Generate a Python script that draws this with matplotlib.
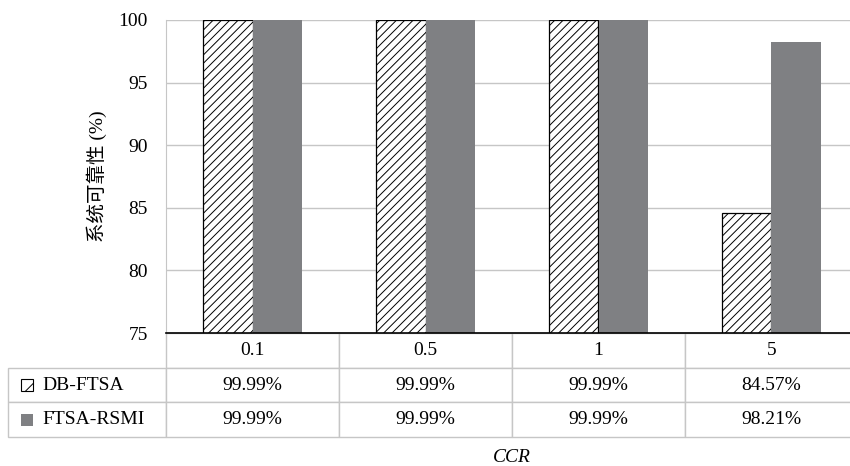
import matplotlib
matplotlib.use('Agg')
import matplotlib.pyplot as plt
from matplotlib.patches import Rectangle
from matplotlib.table import Table

plt.rcParams['font.family'] = ['Liberation Serif', 'Noto Sans CJK SC']
plt.rcParams['hatch.linewidth'] = 0.7

# ========== data ==========
ccr = ['0.1', '0.5', '1', '5']
dbFtsa = [99.99, 99.99, 99.99, 84.57]
ftsaRsmi = [99.99, 99.99, 99.99, 98.21]
seriesNames = ['DB-FTSA', 'FTSA-RSMI']

grey = '#7f8083'
gridGrey = '#c6c6c6'

# ========== figure ==========
axW, axH = 692, 313
fig = plt.figure(figsize=(8.5, 4.66), dpi=100)
ax = fig.add_axes([166/850, 133/466, axW/850, axH/466])

x = list(range(len(ccr)))
w = 0.288
ax.bar([i - w/2 for i in x], dbFtsa, width=w, color='white', edgecolor='black',
       linewidth=0.9, hatch='////', zorder=3)
ax.bar([i + w/2 for i in x], ftsaRsmi, width=w, color=grey, linewidth=0, zorder=3)

ax.set_xlim(-0.5, len(ccr) - 0.5)
ax.set_ylim(75, 100)
ax.set_yticks([75, 80, 85, 90, 95, 100])
ax.set_xticks([])
ax.tick_params(axis='y', length=0, pad=13, labelsize=14)
ax.yaxis.grid(True, color=gridGrey, linewidth=1)
ax.set_axisbelow(True)

for s in ['top', 'right']:
    ax.spines[s].set_visible(False)
ax.spines['left'].set_color(gridGrey)
ax.spines['bottom'].set_color('black')
ax.spines['bottom'].set_linewidth(1.2)
ax.spines['bottom'].set_zorder(10)

ax.set_ylabel('系统可靠性 (%)', fontsize=14, labelpad=8)

# ========== data table ==========
# first column holds the series names, header cell above it stays blank
rowH = 104 / 3 / axH
labW = 158 / axW
colW = 1 / len(ccr)
rows = [[''] + ccr,
        [seriesNames[0]] + [f'{v:.2f}%' for v in dbFtsa],
        [seriesNames[1]] + [f'{v:.2f}%' for v in ftsaRsmi]]
tab = Table(ax, bbox=[-labW, -3 * rowH, 1 + labW, 3 * rowH])
for r, row in enumerate(rows):
    for c, txt in enumerate(row):
        cell = tab.add_cell(r, c, labW if c == 0 else colW, rowH, text=txt,
                            loc='left' if c == 0 else 'center',
                            edgecolor=gridGrey)
        cell.set_linewidth(1)
        if c == 0:
            cell.PAD = 34 / 158
            if r == 0:
                cell.visible_edges = ''
tab.auto_set_font_size(False)
tab.set_fontsize(14)
tab.set_zorder(1)
ax.add_table(tab)

# legend keys inside the row label cells
keyW, keyH = 12 / axW, 12 / axH
for row, kw in [(1.5, dict(facecolor='white', edgecolor='black', hatch='//', linewidth=0.8)),
                (2.5, dict(facecolor=grey, edgecolor='none'))]:
    ax.add_patch(Rectangle(((21 - 166) / axW, -row * rowH - keyH/2), keyW, keyH,
                           transform=ax.transAxes, clip_on=False, zorder=11, **kw))

ax.text(0.5, (333 - 457) / axH, 'CCR', transform=ax.transAxes, ha='center', va='center',
        fontsize=14, style='italic')

fig.savefig('out.png', dpi=100)
